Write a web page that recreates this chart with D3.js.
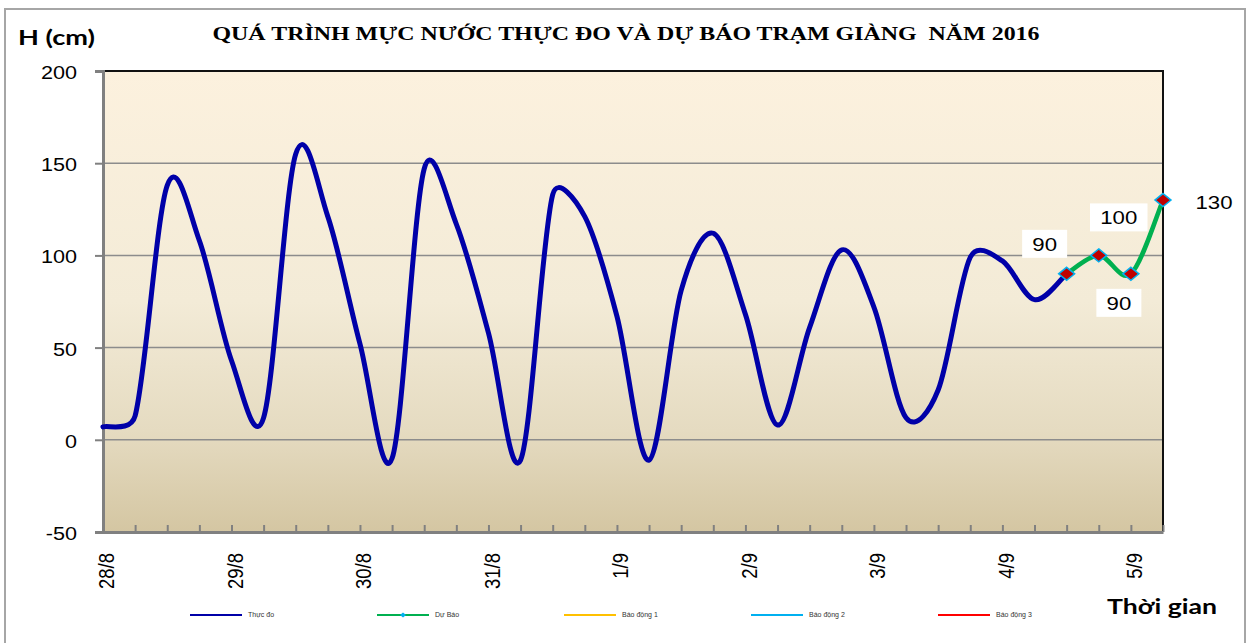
<!DOCTYPE html>
<html>
<head>
<meta charset="utf-8">
<script src="https://cdn.jsdelivr.net/npm/d3@7"></script>
<style>
  body { margin: 0; background: #fff; }
  svg { display: block; }
</style>
</head>
<body>
<script>
// data (6-hourly steps, 4 per day)
var dayLabels = ['28/8', '29/8', '30/8', '31/8', '1/9', '2/9', '3/9', '4/9', '5/9'];
var stepsPerDay = 4;
var observed = [7, 13, 138, 108, 43, 12, 155, 121, 52, -10, 147, 117, 58, -11, 133, 121,
	67, -11, 81, 112, 68, 8, 61, 103, 72, 12, 27, 99, 97, 76, 90];
var forecast = [90, 100, 90, 130];
var yTicks = [-50, 0, 50, 100, 150, 200];
var legendNames = ['Thực đo', 'Dự Báo', 'Báo động 1', 'Báo động 2', 'Báo động 3'];

var W = 1251, H = 643;
var margin = { top: 71, right: 88, bottom: 111, left: 103 };
var width = W - margin.left - margin.right;
var height = H - margin.top - margin.bottom;
var sx = 1.2; // the source picture is stretched sideways

var fStart = observed.length - 1;
var nSteps = fStart + forecast.length;

var svg = d3.select('body').append('svg')
	.attr('width', W)
	.attr('height', H);

// outer frame
svg.append('rect')
	.attr('x', 5).attr('y', 9)
	.attr('width', 1240).attr('height', 640)
	.attr('fill', 'none')
	.attr('stroke', '#a6a6a6')
	.attr('stroke-width', 2);

var grad = svg.append('defs').append('linearGradient')
	.attr('id', 'bg').attr('x1', 0).attr('y1', 0).attr('x2', 0).attr('y2', 1);
grad.append('stop').attr('offset', '0%').attr('stop-color', '#fcf1de');
grad.append('stop').attr('offset', '50%').attr('stop-color', '#f3ebd7');
grad.append('stop').attr('offset', '78%').attr('stop-color', '#e5dbc1');
grad.append('stop').attr('offset', '100%').attr('stop-color', '#d4c6a2');

var g = svg.append('g')
	.attr('transform', 'translate(' + margin.left + ',' + margin.top + ')');

var x = d3.scaleLinear().domain([0, nSteps - 1]).range([0, width]);
var y = d3.scaleLinear().domain([-50, 200]).range([height, 0]);

g.append('rect')
	.attr('width', width).attr('height', height)
	.attr('fill', 'url(#bg)');

// gridlines
g.append('g').selectAll('line')
	.data(yTicks.filter(function(d) { return d > -50 && d < 200; }))
	.enter().append('line')
		.attr('x1', 0).attr('x2', width)
		.attr('y1', function(d) { return y(d); })
		.attr('y2', function(d) { return y(d); })
		.attr('stroke', '#8c8c8c')
		.attr('stroke-width', 1.5);

// top and right border
g.append('path')
	.attr('d', 'M0,' + y(200) + 'H' + width + 'V' + height)
	.attr('fill', 'none')
	.attr('stroke', '#111')
	.attr('stroke-width', 2);

// y axis
var yAxis = d3.axisLeft(y).tickValues(yTicks).tickSize(8).tickPadding(0)
	.tickFormat(function(d) { return String(d); });
var ya = g.append('g').attr('class', 'y axis').call(yAxis);
ya.select('.domain').attr('stroke', '#808080').attr('stroke-width', 3);
ya.selectAll('.tick line').attr('stroke', '#808080').attr('stroke-width', 2);
ya.selectAll('.tick text')
	.attr('x', -26 / sx)
	.attr('dy', '0.42em')
	.attr('transform', 'scale(' + sx + ',1)')
	.style('font-family', '"Liberation Sans", Arial, sans-serif')
	.style('font-size', '18px')
	.attr('fill', '#000');

// x axis
var xAxis = d3.axisBottom(x)
	.tickValues(d3.range(nSteps))
	.tickSize(-7)
	.tickSizeOuter(0)
	.tickFormat(function(d) {
		return d % stepsPerDay === 0 ? dayLabels[d / stepsPerDay] : '';
	});
var xa = g.append('g').attr('class', 'x axis')
	.attr('transform', 'translate(0,' + height + ')')
	.call(xAxis);
xa.select('.domain').attr('stroke', '#808080').attr('stroke-width', 3);
xa.selectAll('.tick line').attr('stroke', '#808080').attr('stroke-width', 2);
xa.selectAll('.tick text')
	.attr('x', null).attr('y', null).attr('dy', '0.35em')
	.attr('transform', 'translate(3,21) scale(' + sx + ',1) rotate(-90)')
	.style('text-anchor', 'end')
	.style('font-family', '"Liberation Sans", Arial, sans-serif')
	.style('font-size', '18.5px')
	.attr('fill', '#000');

// Excel-like smoothing: Bezier arms of 1/6 of the neighbour chord,
// capped at half the segment length
function smoothPath(pts) {
	var p = d3.path();
	var P = pts.map(function(d) { return [x(d.i), y(d.v)]; });
	function cap(v, max) {
		var len = Math.hypot(v[0], v[1]);
		if (len > max && len > 0) return [v[0] * max / len, v[1] * max / len];
		return v;
	}
	p.moveTo(P[0][0], P[0][1]);
	for (var k = 0; k < P.length - 1; k++) {
		var p0 = P[k - 1] || P[k], p1 = P[k], p2 = P[k + 1], p3 = P[k + 2] || P[k + 1];
		var seg = Math.hypot(p2[0] - p1[0], p2[1] - p1[1]) / 2;
		var a = cap([(p2[0] - p0[0]) / 6, (p2[1] - p0[1]) / 6], seg);
		var b = cap([(p3[0] - p1[0]) / 6, (p3[1] - p1[1]) / 6], seg);
		p.bezierCurveTo(p1[0] + a[0], p1[1] + a[1], p2[0] - b[0], p2[1] - b[1], p2[0], p2[1]);
	}
	return p.toString();
}

var obsPts = observed.map(function(v, i) { return { i: i, v: v }; });
var fcPts = forecast.map(function(v, i) { return { i: fStart + i, v: v }; });

g.append('path')
	.attr('d', smoothPath(fcPts))
	.attr('fill', 'none')
	.attr('stroke', '#00b050')
	.attr('stroke-width', 4.5)
	.attr('stroke-linejoin', 'round');

g.append('path')
	.attr('d', smoothPath(obsPts))
	.attr('fill', 'none')
	.attr('stroke', '#0000a8')
	.attr('stroke-width', 5)
	.attr('stroke-linejoin', 'round')
	.attr('stroke-linecap', 'round');

// forecast markers
g.append('g').selectAll('path')
	.data(fcPts)
	.enter().append('path')
		.attr('transform', function(d) { return 'translate(' + x(d.i) + ',' + y(d.v) + ')'; })
		.attr('d', 'M0,-6.5L8,0L0,6.5L-8,0Z')
		.attr('fill', '#c00000')
		.attr('stroke', '#00b0f0')
		.attr('stroke-width', 1.5);

// data labels (offsets follow the picture)
var labelOffsets = [[-22, -30, true], [20, -38, true], [-12, 29, true], [51, 2, false]];
var lab = g.append('g').selectAll('g')
	.data(fcPts)
	.enter().append('g')
		.attr('transform', function(d, k) {
			return 'translate(' + (x(d.i) + labelOffsets[k][0]) + ',' + (y(d.v) + labelOffsets[k][1]) + ')';
		});
lab.filter(function(d, k) { return labelOffsets[k][2]; })
	.append('rect')
		.attr('x', function(d) { return -(String(d.v).length * 12.5 + 20) / 2; })
		.attr('y', -14)
		.attr('width', function(d) { return String(d.v).length * 12.5 + 20; })
		.attr('height', 28)
		.attr('fill', '#fff');
lab.append('text')
	.attr('transform', 'scale(' + sx + ',1)')
	.attr('text-anchor', 'middle')
	.attr('dy', '0.36em')
	.style('font-family', '"Liberation Sans", Arial, sans-serif')
	.style('font-size', '18.5px')
	.text(function(d) { return d.v; });

// titles
svg.append('text')
	.attr('x', 626).attr('y', 40)
	.attr('text-anchor', 'middle')
	.attr('textLength', 827)
	.attr('lengthAdjust', 'spacingAndGlyphs')
	.style('white-space', 'pre')
	.style('font-family', '"Liberation Serif", "Times New Roman", serif')
	.style('font-weight', 'bold')
	.style('font-size', '19px')
	.text('QUÁ TRÌNH MỰC NƯỚC THỰC ĐO VÀ DỰ BÁO TRẠM GIÀNG  NĂM 2016');

svg.append('text')
	.attr('x', 18).attr('y', 45)
	.attr('textLength', 77)
	.attr('lengthAdjust', 'spacingAndGlyphs')
	.style('font-family', 'Lato, "Open Sans", sans-serif')
	.style('font-weight', 'bold')
	.style('font-size', '21px')
	.text('H (cm)');

svg.append('text')
	.attr('x', 1107).attr('y', 614)
	.attr('textLength', 110)
	.attr('lengthAdjust', 'spacingAndGlyphs')
	.style('font-family', 'Lato, "Open Sans", sans-serif')
	.style('font-weight', 'bold')
	.style('font-size', '20px')
	.text('Thời gian');

// legend
var legendColors = ['#0000a8', '#00b050', '#ffc000', '#00b0f0', '#ff0000'];
var lx = d3.scalePoint().domain(legendNames).range([190, 938]);
var leg = svg.append('g').selectAll('g')
	.data(legendNames)
	.enter().append('g')
		.attr('transform', function(d) { return 'translate(' + lx(d) + ',615)'; });
leg.append('line')
	.attr('x2', 52)
	.attr('stroke', function(d, k) { return legendColors[k]; })
	.attr('stroke-width', 2);
leg.filter(function(d, k) { return k === 1; })
	.append('path')
		.attr('transform', 'translate(26,0)')
		.attr('d', 'M0,-2.5L3,0L0,2.5L-3,0Z')
		.attr('fill', '#00b0f0');
leg.append('text')
	.attr('x', 58)
	.attr('dy', '0.35em')
	.style('font-family', '"Liberation Sans", Arial, sans-serif')
	.style('font-size', '7px')
	.attr('fill', '#333')
	.text(function(d) { return d; });
</script>
</body>
</html>
